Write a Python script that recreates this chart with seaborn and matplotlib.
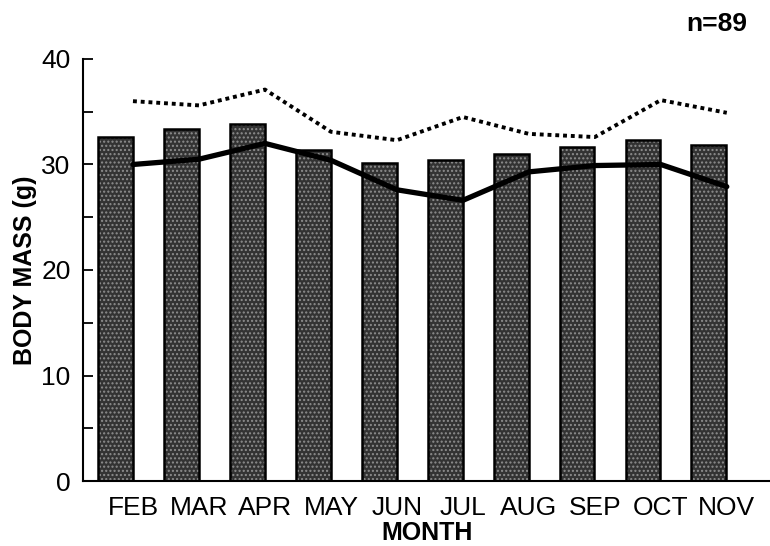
import numpy as np
import pandas as pd
import matplotlib
matplotlib.use("Agg")
import matplotlib.pyplot as plt
from matplotlib.ticker import MultipleLocator
import seaborn as sns

# Monthly body mass (g)
months = ["FEB", "MAR", "APR", "MAY", "JUN", "JUL", "AUG", "SEP", "OCT", "NOV"]
mean_mass = [32.6, 33.4, 33.8, 31.4, 30.1, 30.4, 31.0, 31.7, 32.3, 31.8]
solid_series = [30.0, 30.5, 32.0, 30.4, 27.6, 26.6, 29.3, 29.9, 30.0, 27.9]
dotted_series = [36.0, 35.6, 37.1, 33.1, 32.3, 34.5, 32.9, 32.6, 36.1, 34.9]
sample_note = "n=89"

sns.set_theme(style="ticks")
plt.rcParams["font.family"] = ["Liberation Sans", "DejaVu Sans"]
plt.rcParams["hatch.linewidth"] = 1.0
plt.rcParams["text.color"] = "black"
plt.rcParams["axes.labelcolor"] = "black"

pos = np.arange(len(months))
df = pd.DataFrame({"pos": pos, "mass": mean_mass})
# month labels and line vertices sit at the right edge of each bar
edge_x = pos + 0.27

fig = plt.figure(figsize=(7.7, 5.46), dpi=100)
ax = fig.add_axes([0.108, 0.119, 0.892, 0.773])

# grainy filled bars
sns.barplot(data=df, x="pos", y="mass", native_scale=True, width=0.53,
            color="#333333", saturation=1, ax=ax)
for p in ax.patches:
    p.set_hatch("....")
    p.set_edgecolor("#8e8e8e")
    p.set_linewidth(0)
# black outlines
sns.barplot(data=df, x="pos", y="mass", native_scale=True, width=0.53,
            fill=False, edgecolor="black", linewidth=1.8, ax=ax)

sns.lineplot(x=edge_x, y=solid_series, color="black", linewidth=3.8,
             solid_joinstyle="round", ax=ax)
sns.lineplot(x=edge_x, y=dotted_series, color="black", linewidth=2.8,
             linestyle=(0, (1.0, 1.0)), ax=ax)

ax.set_xlim(-0.485, 9.925)
ax.set_ylim(0, 40)
ax.set_xticks(edge_x)
ax.set_xticklabels(months)
ax.yaxis.set_major_locator(MultipleLocator(10))
ax.yaxis.set_minor_locator(MultipleLocator(5))
ax.tick_params(axis="y", which="both", direction="in", length=7, width=1.3,
               labelsize=19, pad=9, colors="black")
ax.tick_params(axis="x", length=0, labelsize=19, pad=11, colors="black")

for side in ["top", "right"]:
    ax.spines[side].set_visible(False)
for side in ["left", "bottom"]:
    ax.spines[side].set_linewidth(1.5)
    ax.spines[side].set_color("black")

ax.set_xlabel("MONTH", fontsize=18, fontweight="bold", labelpad=0.5)
ax.set_ylabel("BODY MASS (g)", fontsize=18, fontweight="bold", labelpad=3)
fig.text(0.931, 0.956, sample_note, fontsize=19, fontweight="bold",
         ha="center", va="center")

fig.savefig("out.png", dpi=100, facecolor="white")
